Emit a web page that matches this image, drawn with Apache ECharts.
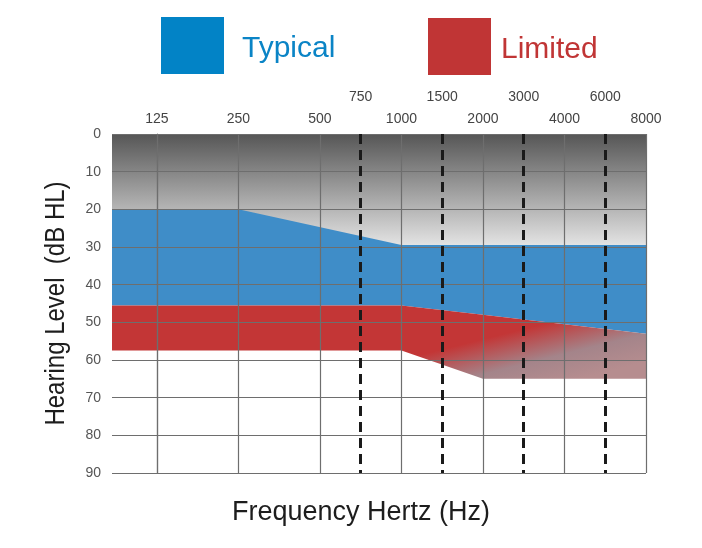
<!DOCTYPE html>
<html><head><meta charset="utf-8">
<script src="https://cdn.jsdelivr.net/npm/echarts@6/dist/echarts.min.js"></script>
<style>html,body{margin:0;padding:0;background:#fff}#c{width:702px;height:548px}</style>
</head><body><div id="c"></div>
<script>
// Octave positions on the audiogram axis (125 Hz = 0, each octave = 1)
const freqPos = [0, 1, 2, 3, 4, 5, 6];
const freqLabels = ['125', '250', '500', '1000', '2000', '4000', '8000'];
const interPos = [2.5, 3.5, 4.5, 5.5];
const interLabels = ['750', '1500', '3000', '6000'];
const xMin = -0.55, xMax = 6;
const dbMin = 0, dbMax = 90, dbStep = 10;

// Band outlines (x = octave position, values in dB HL)
const bandX = [-0.55, 1, 3, 4, 6];
const backgroundTop = [0, 0, 0, 0, 0];
const backgroundBottom = [29.5, 29.5, 29.5, 29.5, 29.5];
const typicalTop = [20, 20, 29.5, 29.5, 29.5];
const typicalBottom = [45.5, 45.5, 45.5, 48, 53];
const limitedTop = [45.5, 45.5, 45.5, 48, 53];
const limitedBottom = [57.5, 57.5, 57.5, 65, 65];

const FONT = '"Liberation Sans", Arial, sans-serif';

function bandRenderer(tops, bottoms, fill) {
  return function (params, api) {
    if (params.dataIndex !== 0) return null;
    const pts = [];
    for (let i = 0; i < bandX.length; i++) pts.push(api.coord([bandX[i], tops[i]]));
    for (let i = bandX.length - 1; i >= 0; i--) pts.push(api.coord([bandX[i], bottoms[i]]));
    return { type: 'polygon', shape: { points: pts }, style: { fill: fill } };
  };
}
function bandData(tops, bottoms) { return bandX.map((x, i) => [x, tops[i], bottoms[i]]); }

function legendText(color, padLeft) {
  return { fontSize: 30, fontFamily: FONT, color: color,
    rich: { t: { fontSize: 30, fontFamily: FONT, color: color, padding: [7, 0, 0, padLeft] } } };
}

const chart = echarts.init(document.getElementById('c'), null, { renderer: 'canvas' });
chart.setOption({
  animation: false,
  backgroundColor: '#ffffff',
  grid: { left: 112, right: 56, top: 134, bottom: 75 },
  legend: [
    { left: 161, top: 17, padding: 0, itemWidth: 63, itemHeight: 57, icon: 'rect', selectedMode: false,
      data: ['Typical'], formatter: '{t|{name}}', textStyle: legendText('#0a84c6', 13) },
    { left: 428, top: 18, padding: 0, itemWidth: 63, itemHeight: 57, icon: 'rect', selectedMode: false,
      data: ['Limited'], formatter: '{t|{name}}', textStyle: legendText('#c03535', 5) }
  ],
  xAxis: [
    { type: 'value', position: 'top', min: xMin, max: xMax, z: 10,
      axisLine: { show: false },
      axisTick: { show: false, customValues: freqPos },
      axisLabel: { customValues: freqPos, color: '#444', fontSize: 14, fontFamily: FONT, margin: 8,
        formatter: v => { const i = freqPos.indexOf(v); return i >= 0 ? freqLabels[i] : ''; } },
      splitLine: { show: true, lineStyle: { color: '#6e6e6e', width: 1.2 } } },
    { type: 'value', position: 'top', offset: 22, min: xMin, max: xMax, z: 12,
      axisLine: { show: false },
      axisTick: { show: false, customValues: interPos },
      axisLabel: { customValues: interPos, color: '#444', fontSize: 14, fontFamily: FONT, margin: 8,
        formatter: v => { const i = interPos.indexOf(v); return i >= 0 ? interLabels[i] : ''; } },
      splitLine: { show: true, lineStyle: { color: '#1a1a1a', width: 3, type: [10, 6] } } }
  ],
  yAxis: {
    type: 'value', inverse: true, min: dbMin, max: dbMax, interval: dbStep, z: 10,
    axisLine: { show: true, lineStyle: { color: '#6e6e6e', width: 1.2 } },
    axisTick: { show: false },
    axisLabel: { color: '#555', fontSize: 14, fontFamily: FONT, margin: 11 },
    splitLine: { show: true, lineStyle: { color: '#6e6e6e', width: 1.2 } }
  },
  graphic: [
    { type: 'text', x: 361, y: 513, style: { text: 'Frequency Hertz (Hz)', font: '27px ' + FONT,
      fill: '#1d1d1d', textAlign: 'center', textVerticalAlign: 'middle' } },
    { type: 'text', x: 56, y: 303.5, rotation: Math.PI / 2, scaleY: 1.18,
      style: { text: 'Hearing Level  (dB HL)', font: '24px ' + FONT,
      fill: '#1d1d1d', textAlign: 'center', textVerticalAlign: 'middle' } }
  ],
  series: [
    { type: 'custom', name: 'background', z: 1, silent: true, xAxisIndex: 0,
      encode: { x: 0, y: [1, 2] }, data: bandData(backgroundTop, backgroundBottom),
      renderItem: bandRenderer(backgroundTop, backgroundBottom,
        { type: 'linear', x: 0, y: 0, x2: 0, y2: 1,
          colorStops: [{ offset: 0, color: '#565656' }, { offset: 1, color: '#e3e3e3' }] }) },
    { type: 'custom', name: 'Typical', z: 2, xAxisIndex: 0, itemStyle: { color: '#0283c6' },
      encode: { x: 0, y: [1, 2] }, data: bandData(typicalTop, typicalBottom),
      renderItem: bandRenderer(typicalTop, typicalBottom, '#3f8dc8') },
    { type: 'custom', name: 'Limited', z: 3, xAxisIndex: 0, itemStyle: { color: '#c03535' },
      encode: { x: 0, y: [1, 2] }, data: bandData(limitedTop, limitedBottom),
      renderItem: bandRenderer(limitedTop, limitedBottom,
        { type: 'linear', x: 540, y: 325, x2: 555, y2: 385, global: true,
          colorStops: [{ offset: 0, color: '#c33636' }, { offset: 0.55, color: '#a4848a' }, { offset: 1, color: '#b68d8f' }] }) }
  ]
});
</script></body></html>
